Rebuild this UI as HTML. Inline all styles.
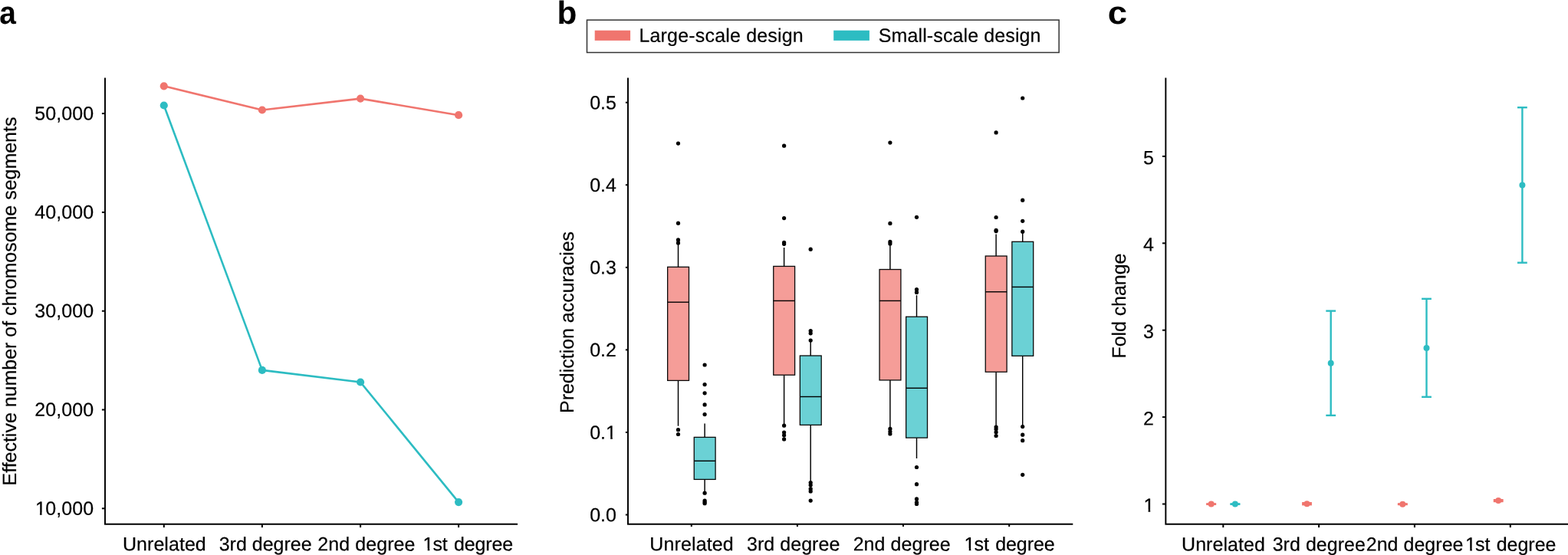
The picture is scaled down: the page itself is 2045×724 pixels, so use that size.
<!DOCTYPE html>
<html lang="en"><head><meta charset="utf-8"><title>Figure</title>
<style>
html,body{margin:0;padding:0;background:#fff;}
svg{display:block;}
text{font-family:"Liberation Sans", Arial, Helvetica, sans-serif;fill:#000;text-rendering:geometricPrecision;stroke:#000;stroke-width:0.2px;stroke-linejoin:round;}
</style></head>
<body>
<svg width="2045" height="724" viewBox="0 0 2045 724">
<rect x="0" y="0" width="2045" height="724" fill="#fff"/>
<text font-size="42.0" font-weight="bold" style="stroke:none" transform="translate(-0.87 30.6) scale(0.9256 1)">a</text>
<text font-size="42.0" font-weight="bold" style="stroke:none" transform="translate(726.55 30.7) scale(1.0090 1)">b</text>
<text font-size="42.0" font-weight="bold" style="stroke:none" transform="translate(1444.78 30.6) scale(1.0842 1)">c</text>
<polyline points="137,101.5 137,683.7 675.1,683.7" fill="none" stroke="#000" stroke-width="1.95" stroke-linejoin="miter"/>
<line x1="132.9" y1="148.1" x2="137" y2="148.1" stroke="#000" stroke-width="2"/>
<text x="45.3" y="156.45" font-size="25" letter-spacing="0.060" transform="rotate(0.04 45.3 156.45)">50,000</text>
<line x1="132.9" y1="276.9" x2="137" y2="276.9" stroke="#000" stroke-width="2"/>
<text x="45.3" y="285.25" font-size="25" letter-spacing="0.060" transform="rotate(0.04 45.3 285.25)">40,000</text>
<line x1="132.9" y1="405.7" x2="137" y2="405.7" stroke="#000" stroke-width="2"/>
<text x="45.3" y="414.05" font-size="25" letter-spacing="0.060" transform="rotate(0.04 45.3 414.05)">30,000</text>
<line x1="132.9" y1="534.5" x2="137" y2="534.5" stroke="#000" stroke-width="2"/>
<text x="45.3" y="542.85" font-size="25" letter-spacing="0.060" transform="rotate(0.04 45.3 542.85)">20,000</text>
<line x1="132.9" y1="663.3" x2="137" y2="663.3" stroke="#000" stroke-width="2"/>
<text x="45.9" y="671.65" font-size="25" letter-spacing="0.060" transform="rotate(0.04 45.9 671.65)">1<tspan dx="-0.6">0,000</tspan></text>
<line x1="213.8" y1="683.7" x2="213.8" y2="688.1" stroke="#000" stroke-width="2"/>
<text x="159.96" y="718.3" font-size="25" letter-spacing="0.053" transform="rotate(0.04 159.96 718.3)">Unrelated</text>
<line x1="341.9" y1="683.7" x2="341.9" y2="688.1" stroke="#000" stroke-width="2"/>
<text x="285.66" y="718.3" font-size="25" letter-spacing="0.003" transform="rotate(0.04 285.66 718.3)">3rd degree</text>
<line x1="470.1" y1="683.7" x2="470.1" y2="688.1" stroke="#000" stroke-width="2"/>
<text x="414.35" y="718.3" font-size="25" letter-spacing="0.068" transform="rotate(0.04 414.35 718.3)">2nd degree</text>
<line x1="598.1" y1="683.7" x2="598.1" y2="688.1" stroke="#000" stroke-width="2"/>
<text x="551.62" y="718.3" font-size="25" letter-spacing="-0.110" transform="rotate(0.04 551.62 718.3)">1<tspan dx="-1">st</tspan><tspan dx="1.5"> degree</tspan></text>
<text x="21" y="633.46" font-size="25" letter-spacing="-0.022" transform="rotate(-90 21 633.46)">Effective number of chromosome segments</text>
<polyline points="213.8,112.3 341.9,143.5 470.1,128.6 598.1,150.2" fill="none" stroke="#F0756E" stroke-width="2.6" stroke-linejoin="round"/>
<circle cx="213.8" cy="112.3" r="5.1" fill="#F0756E"/>
<circle cx="341.9" cy="143.5" r="5.1" fill="#F0756E"/>
<circle cx="470.1" cy="128.6" r="5.1" fill="#F0756E"/>
<circle cx="598.1" cy="150.2" r="5.1" fill="#F0756E"/>
<polyline points="213.8,137.5 341.9,482.9 470.1,498.5 598.1,655.1" fill="none" stroke="#2DBCC2" stroke-width="2.6" stroke-linejoin="round"/>
<circle cx="213.8" cy="137.5" r="5.1" fill="#2DBCC2"/>
<circle cx="341.9" cy="482.9" r="5.1" fill="#2DBCC2"/>
<circle cx="470.1" cy="498.5" r="5.1" fill="#2DBCC2"/>
<circle cx="598.1" cy="655.1" r="5.1" fill="#2DBCC2"/>
<rect x="765.5" y="26.1" width="615.65" height="42.4" fill="#fff" stroke="#333" stroke-width="1.5"/>
<rect x="775.7" y="39.7" width="46.4" height="13.2" fill="#F0756E"/>
<rect x="1087.2" y="39.7" width="46.7" height="13.2" fill="#2DBCC2"/>
<text x="833.44" y="54.7" font-size="25" letter-spacing="0.179" transform="rotate(0.04 833.44 54.7)">Large-scale design</text>
<text x="1145.78" y="54.7" font-size="25" letter-spacing="0.114" transform="rotate(0.04 1145.78 54.7)">Small-scale design</text>
<polyline points="819,101.5 819,683.8 1399.3,683.8" fill="none" stroke="#000" stroke-width="1.95" stroke-linejoin="miter"/>
<line x1="815.9" y1="671.5" x2="819" y2="671.5" stroke="#000" stroke-width="2"/>
<text x="769.2" y="680.2" font-size="25" letter-spacing="0.025" transform="rotate(0.04 769.2 680.2)">0.0</text>
<line x1="815.9" y1="563.94" x2="819" y2="563.94" stroke="#000" stroke-width="2"/>
<text x="769.2" y="572.64" font-size="25" letter-spacing="0.025" transform="rotate(0.04 769.2 572.64)">0.1</text>
<line x1="815.9" y1="456.38" x2="819" y2="456.38" stroke="#000" stroke-width="2"/>
<text x="769.2" y="465.08" font-size="25" letter-spacing="0.025" transform="rotate(0.04 769.2 465.08)">0.2</text>
<line x1="815.9" y1="348.82" x2="819" y2="348.82" stroke="#000" stroke-width="2"/>
<text x="769.2" y="357.52" font-size="25" letter-spacing="0.025" transform="rotate(0.04 769.2 357.52)">0.3</text>
<line x1="815.9" y1="241.26" x2="819" y2="241.26" stroke="#000" stroke-width="2"/>
<text x="769.2" y="249.96" font-size="25" letter-spacing="0.025" transform="rotate(0.04 769.2 249.96)">0.4</text>
<line x1="815.9" y1="133.7" x2="819" y2="133.7" stroke="#000" stroke-width="2"/>
<text x="769.2" y="142.4" font-size="25" letter-spacing="0.025" transform="rotate(0.04 769.2 142.4)">0.5</text>
<line x1="901.8" y1="683.8" x2="901.8" y2="687.1" stroke="#000" stroke-width="2"/>
<text x="847.36" y="718.3" font-size="25" letter-spacing="0.116" transform="rotate(0.04 847.36 718.3)">Unrelated</text>
<line x1="1039.9" y1="683.8" x2="1039.9" y2="687.1" stroke="#000" stroke-width="2"/>
<text x="974.06" y="718.3" font-size="25" letter-spacing="0.036" transform="rotate(0.04 974.06 718.3)">3rd degree</text>
<line x1="1178" y1="683.8" x2="1178" y2="687.1" stroke="#000" stroke-width="2"/>
<text x="1112.65" y="718.3" font-size="25" letter-spacing="0.057" transform="rotate(0.04 1112.65 718.3)">2nd degree</text>
<line x1="1316.2" y1="683.8" x2="1316.2" y2="687.1" stroke="#000" stroke-width="2"/>
<text x="1257.62" y="718.3" font-size="25" letter-spacing="-0.065" transform="rotate(0.04 1257.62 718.3)">1<tspan dx="-1">st</tspan><tspan dx="1.5"> degree</tspan></text>
<text x="748.4" y="538.96" font-size="25" letter-spacing="-0.029" transform="rotate(-90 748.4 538.96)">Prediction accuracies</text>
<line x1="884.5" y1="318.3" x2="884.5" y2="348.3" stroke="#000" stroke-width="1.45"/>
<line x1="884.5" y1="496.4" x2="884.5" y2="555.7" stroke="#000" stroke-width="1.45"/>
<rect x="870.65" y="348.3" width="27.85" height="148.1" fill="#F59D98" stroke="#0a0a0a" stroke-width="1.3"/>
<line x1="870.5" y1="394.2" x2="898.5" y2="394.2" stroke="#000" stroke-width="1.4"/>
<circle cx="884.5" cy="187.1" r="2.6" fill="#000"/>
<circle cx="884.5" cy="291.2" r="2.6" fill="#000"/>
<circle cx="884.5" cy="312.9" r="2.6" fill="#000"/>
<circle cx="884.5" cy="316.9" r="2.6" fill="#000"/>
<circle cx="884.5" cy="560.7" r="2.6" fill="#000"/>
<circle cx="884.5" cy="566.5" r="2.6" fill="#000"/>
<line x1="919.1" y1="552.4" x2="919.1" y2="570.4" stroke="#000" stroke-width="1.45"/>
<line x1="919.1" y1="625.4" x2="919.1" y2="643.2" stroke="#000" stroke-width="1.45"/>
<rect x="905.25" y="570.4" width="27.85" height="55" fill="#6BD1D5" stroke="#0a0a0a" stroke-width="1.3"/>
<line x1="905.1" y1="601.3" x2="933.1" y2="601.3" stroke="#000" stroke-width="1.4"/>
<circle cx="919.1" cy="476" r="2.6" fill="#000"/>
<circle cx="919.1" cy="501.6" r="2.6" fill="#000"/>
<circle cx="919.1" cy="512.8" r="2.6" fill="#000"/>
<circle cx="919.1" cy="527.9" r="2.6" fill="#000"/>
<circle cx="919.1" cy="540.6" r="2.6" fill="#000"/>
<circle cx="919.1" cy="643.2" r="2.6" fill="#000"/>
<circle cx="919.1" cy="653.1" r="2.6" fill="#000"/>
<circle cx="919.1" cy="654.9" r="2.6" fill="#000"/>
<circle cx="919.1" cy="656.7" r="2.6" fill="#000"/>
<line x1="1022.6" y1="323" x2="1022.6" y2="347.4" stroke="#000" stroke-width="1.45"/>
<line x1="1022.6" y1="489.2" x2="1022.6" y2="555.2" stroke="#000" stroke-width="1.45"/>
<rect x="1008.75" y="347.4" width="27.85" height="141.8" fill="#F59D98" stroke="#0a0a0a" stroke-width="1.3"/>
<line x1="1008.6" y1="392.4" x2="1036.6" y2="392.4" stroke="#000" stroke-width="1.4"/>
<circle cx="1022.6" cy="190.2" r="2.6" fill="#000"/>
<circle cx="1022.6" cy="284.6" r="2.6" fill="#000"/>
<circle cx="1022.6" cy="316.3" r="2.6" fill="#000"/>
<circle cx="1022.6" cy="318.3" r="2.6" fill="#000"/>
<circle cx="1022.6" cy="555.2" r="2.6" fill="#000"/>
<circle cx="1022.6" cy="564" r="2.6" fill="#000"/>
<circle cx="1022.6" cy="567.8" r="2.6" fill="#000"/>
<circle cx="1022.6" cy="572.9" r="2.6" fill="#000"/>
<line x1="1057.2" y1="444" x2="1057.2" y2="464" stroke="#000" stroke-width="1.45"/>
<line x1="1057.2" y1="554.4" x2="1057.2" y2="629.5" stroke="#000" stroke-width="1.45"/>
<rect x="1043.35" y="464" width="27.85" height="90.4" fill="#6BD1D5" stroke="#0a0a0a" stroke-width="1.3"/>
<line x1="1043.2" y1="517.5" x2="1071.2" y2="517.5" stroke="#000" stroke-width="1.4"/>
<circle cx="1057.2" cy="325.2" r="2.6" fill="#000"/>
<circle cx="1057.2" cy="431.5" r="2.6" fill="#000"/>
<circle cx="1057.2" cy="434.8" r="2.6" fill="#000"/>
<circle cx="1057.2" cy="444" r="2.6" fill="#000"/>
<circle cx="1057.2" cy="629.5" r="2.6" fill="#000"/>
<circle cx="1057.2" cy="632.8" r="2.6" fill="#000"/>
<circle cx="1057.2" cy="637.7" r="2.6" fill="#000"/>
<circle cx="1057.2" cy="640.9" r="2.6" fill="#000"/>
<circle cx="1057.2" cy="653.1" r="2.6" fill="#000"/>
<line x1="1160.9" y1="319" x2="1160.9" y2="351.5" stroke="#000" stroke-width="1.45"/>
<line x1="1160.9" y1="495.9" x2="1160.9" y2="557.2" stroke="#000" stroke-width="1.45"/>
<rect x="1147.05" y="351.5" width="27.85" height="144.4" fill="#F59D98" stroke="#0a0a0a" stroke-width="1.3"/>
<line x1="1146.9" y1="392.4" x2="1174.9" y2="392.4" stroke="#000" stroke-width="1.4"/>
<circle cx="1160.9" cy="186.1" r="2.6" fill="#000"/>
<circle cx="1160.9" cy="291.4" r="2.6" fill="#000"/>
<circle cx="1160.9" cy="315.4" r="2.6" fill="#000"/>
<circle cx="1160.9" cy="317.9" r="2.6" fill="#000"/>
<circle cx="1160.9" cy="559.4" r="2.6" fill="#000"/>
<circle cx="1160.9" cy="563" r="2.6" fill="#000"/>
<circle cx="1160.9" cy="566" r="2.6" fill="#000"/>
<line x1="1195.5" y1="385.1" x2="1195.5" y2="413.2" stroke="#000" stroke-width="1.45"/>
<line x1="1195.5" y1="571.1" x2="1195.5" y2="598" stroke="#000" stroke-width="1.45"/>
<rect x="1181.65" y="413.2" width="27.85" height="157.9" fill="#6BD1D5" stroke="#0a0a0a" stroke-width="1.3"/>
<line x1="1181.5" y1="506.3" x2="1209.5" y2="506.3" stroke="#000" stroke-width="1.4"/>
<circle cx="1195.5" cy="283.3" r="2.6" fill="#000"/>
<circle cx="1195.5" cy="377.7" r="2.6" fill="#000"/>
<circle cx="1195.5" cy="381.4" r="2.6" fill="#000"/>
<circle cx="1195.5" cy="609.5" r="2.6" fill="#000"/>
<circle cx="1195.5" cy="631.7" r="2.6" fill="#000"/>
<circle cx="1195.5" cy="650.9" r="2.6" fill="#000"/>
<circle cx="1195.5" cy="655.3" r="2.6" fill="#000"/>
<circle cx="1195.5" cy="657.5" r="2.6" fill="#000"/>
<line x1="1299.1" y1="305.6" x2="1299.1" y2="334" stroke="#000" stroke-width="1.45"/>
<line x1="1299.1" y1="485.2" x2="1299.1" y2="555.7" stroke="#000" stroke-width="1.45"/>
<rect x="1285.25" y="334" width="27.85" height="151.2" fill="#F59D98" stroke="#0a0a0a" stroke-width="1.3"/>
<line x1="1285.1" y1="380.7" x2="1313.1" y2="380.7" stroke="#000" stroke-width="1.4"/>
<circle cx="1299.1" cy="172.9" r="2.6" fill="#000"/>
<circle cx="1299.1" cy="283.5" r="2.6" fill="#000"/>
<circle cx="1299.1" cy="300.3" r="2.6" fill="#000"/>
<circle cx="1299.1" cy="301.6" r="2.6" fill="#000"/>
<circle cx="1299.1" cy="557" r="2.6" fill="#000"/>
<circle cx="1299.1" cy="559.8" r="2.6" fill="#000"/>
<circle cx="1299.1" cy="563.8" r="2.6" fill="#000"/>
<circle cx="1299.1" cy="568.5" r="2.6" fill="#000"/>
<line x1="1333.7" y1="302.2" x2="1333.7" y2="315.3" stroke="#000" stroke-width="1.45"/>
<line x1="1333.7" y1="464.3" x2="1333.7" y2="556.6" stroke="#000" stroke-width="1.45"/>
<rect x="1319.85" y="315.3" width="27.85" height="149" fill="#6BD1D5" stroke="#0a0a0a" stroke-width="1.3"/>
<line x1="1319.7" y1="374.4" x2="1347.7" y2="374.4" stroke="#000" stroke-width="1.4"/>
<circle cx="1333.7" cy="128" r="2.6" fill="#000"/>
<circle cx="1333.7" cy="261.2" r="2.6" fill="#000"/>
<circle cx="1333.7" cy="288.3" r="2.6" fill="#000"/>
<circle cx="1333.7" cy="302.2" r="2.6" fill="#000"/>
<circle cx="1333.7" cy="556.6" r="2.6" fill="#000"/>
<circle cx="1333.7" cy="567.2" r="2.6" fill="#000"/>
<circle cx="1333.7" cy="574.7" r="2.6" fill="#000"/>
<circle cx="1333.7" cy="619.3" r="2.6" fill="#000"/>
<polyline points="1520.35,101.4 1520.35,683.8 2046,683.8" fill="none" stroke="#000" stroke-width="1.95" stroke-linejoin="miter"/>
<line x1="1516" y1="657.5" x2="1520.35" y2="657.5" stroke="#000" stroke-width="2"/>
<text x="1491.51" y="667.8" font-size="25" transform="rotate(0.04 1491.51 667.8)">1</text>
<line x1="1516" y1="544.1" x2="1520.35" y2="544.1" stroke="#000" stroke-width="2"/>
<text x="1491.11" y="554.4" font-size="25" transform="rotate(0.04 1491.11 554.4)">2</text>
<line x1="1516" y1="430.7" x2="1520.35" y2="430.7" stroke="#000" stroke-width="2"/>
<text x="1491.11" y="441" font-size="25" transform="rotate(0.04 1491.11 441)">3</text>
<line x1="1516" y1="317.3" x2="1520.35" y2="317.3" stroke="#000" stroke-width="2"/>
<text x="1491.11" y="327.6" font-size="25" transform="rotate(0.04 1491.11 327.6)">4</text>
<line x1="1516" y1="203.9" x2="1520.35" y2="203.9" stroke="#000" stroke-width="2"/>
<text x="1491.11" y="214.2" font-size="25" transform="rotate(0.04 1491.11 214.2)">5</text>
<line x1="1595.3" y1="683.8" x2="1595.3" y2="688.1" stroke="#000" stroke-width="2"/>
<text x="1541.06" y="718.6" font-size="25" letter-spacing="0.053" transform="rotate(0.04 1541.06 718.6)">Unrelated</text>
<line x1="1720.1" y1="683.8" x2="1720.1" y2="688.1" stroke="#000" stroke-width="2"/>
<text x="1659.66" y="718.6" font-size="25" letter-spacing="0.036" transform="rotate(0.04 1659.66 718.6)">3rd degree</text>
<line x1="1844.9" y1="683.8" x2="1844.9" y2="688.1" stroke="#000" stroke-width="2"/>
<text x="1781.75" y="718.6" font-size="25" letter-spacing="0.024" transform="rotate(0.04 1781.75 718.6)">2nd degree</text>
<line x1="1969.8" y1="683.8" x2="1969.8" y2="688.1" stroke="#000" stroke-width="2"/>
<text x="1911.12" y="718.6" font-size="25" letter-spacing="-0.043" transform="rotate(0.04 1911.12 718.6)">1<tspan dx="-1">st</tspan><tspan dx="1.5"> degree</tspan></text>
<text x="1468.2" y="467.56" font-size="25" letter-spacing="-0.064" transform="rotate(-90 1468.2 467.56)">Fold change</text>
<line x1="1579.7" y1="657.5" x2="1579.7" y2="657.7" stroke="#F0756E" stroke-width="2.4"/>
<line x1="1573.3" y1="657.5" x2="1586.1" y2="657.5" stroke="#F0756E" stroke-width="2.4"/>
<line x1="1573.3" y1="657.7" x2="1586.1" y2="657.7" stroke="#F0756E" stroke-width="2.4"/>
<circle cx="1579.7" cy="657.6" r="4.0" fill="#F0756E"/>
<line x1="1610.9" y1="657.5" x2="1610.9" y2="657.7" stroke="#2DBCC2" stroke-width="2.4"/>
<line x1="1604.5" y1="657.5" x2="1617.3" y2="657.5" stroke="#2DBCC2" stroke-width="2.4"/>
<line x1="1604.5" y1="657.7" x2="1617.3" y2="657.7" stroke="#2DBCC2" stroke-width="2.4"/>
<circle cx="1610.9" cy="657.6" r="4.0" fill="#2DBCC2"/>
<line x1="1704.5" y1="656.2" x2="1704.5" y2="658.2" stroke="#F0756E" stroke-width="2.4"/>
<line x1="1698.1" y1="656.2" x2="1710.9" y2="656.2" stroke="#F0756E" stroke-width="2.4"/>
<line x1="1698.1" y1="658.2" x2="1710.9" y2="658.2" stroke="#F0756E" stroke-width="2.4"/>
<circle cx="1704.5" cy="657.2" r="4.0" fill="#F0756E"/>
<line x1="1735.7" y1="405.6" x2="1735.7" y2="541.9" stroke="#2DBCC2" stroke-width="2.4"/>
<line x1="1729.3" y1="405.6" x2="1742.1" y2="405.6" stroke="#2DBCC2" stroke-width="2.4"/>
<line x1="1729.3" y1="541.9" x2="1742.1" y2="541.9" stroke="#2DBCC2" stroke-width="2.4"/>
<circle cx="1735.7" cy="473.7" r="4.0" fill="#2DBCC2"/>
<line x1="1829.3" y1="657.4" x2="1829.3" y2="658" stroke="#F0756E" stroke-width="2.4"/>
<line x1="1822.9" y1="657.4" x2="1835.7" y2="657.4" stroke="#F0756E" stroke-width="2.4"/>
<line x1="1822.9" y1="658" x2="1835.7" y2="658" stroke="#F0756E" stroke-width="2.4"/>
<circle cx="1829.3" cy="657.7" r="4.0" fill="#F0756E"/>
<line x1="1860.5" y1="389.8" x2="1860.5" y2="517.8" stroke="#2DBCC2" stroke-width="2.4"/>
<line x1="1854.1" y1="389.8" x2="1866.9" y2="389.8" stroke="#2DBCC2" stroke-width="2.4"/>
<line x1="1854.1" y1="517.8" x2="1866.9" y2="517.8" stroke="#2DBCC2" stroke-width="2.4"/>
<circle cx="1860.5" cy="453.9" r="4.0" fill="#2DBCC2"/>
<line x1="1954.2" y1="652.2" x2="1954.2" y2="654" stroke="#F0756E" stroke-width="2.4"/>
<line x1="1947.8" y1="652.2" x2="1960.6" y2="652.2" stroke="#F0756E" stroke-width="2.4"/>
<line x1="1947.8" y1="654" x2="1960.6" y2="654" stroke="#F0756E" stroke-width="2.4"/>
<circle cx="1954.2" cy="653.1" r="4.0" fill="#F0756E"/>
<line x1="1985.4" y1="140.2" x2="1985.4" y2="342.7" stroke="#2DBCC2" stroke-width="2.4"/>
<line x1="1979" y1="140.2" x2="1991.8" y2="140.2" stroke="#2DBCC2" stroke-width="2.4"/>
<line x1="1979" y1="342.7" x2="1991.8" y2="342.7" stroke="#2DBCC2" stroke-width="2.4"/>
<circle cx="1985.4" cy="241.5" r="4.0" fill="#2DBCC2"/>
<rect x="46.35" y="668.78" width="5.62" height="3.67" fill="#fff"/>
<rect x="54.61" y="668.78" width="4.84" height="3.67" fill="#fff"/>
<rect x="552.07" y="715.43" width="5.62" height="3.67" fill="#fff"/>
<rect x="560.34" y="715.43" width="4.83" height="3.67" fill="#fff"/>
<rect x="790.55" y="569.77" width="5.62" height="3.67" fill="#fff"/>
<rect x="798.82" y="569.77" width="4.83" height="3.67" fill="#fff"/>
<rect x="1258.08" y="715.43" width="5.62" height="3.67" fill="#fff"/>
<rect x="1266.34" y="715.43" width="4.84" height="3.67" fill="#fff"/>
<rect x="1491.96" y="664.93" width="5.62" height="3.67" fill="#fff"/>
<rect x="1500.23" y="664.93" width="4.84" height="3.67" fill="#fff"/>
<rect x="1911.58" y="715.73" width="5.62" height="3.67" fill="#fff"/>
<rect x="1919.84" y="715.73" width="4.84" height="3.67" fill="#fff"/>
</svg>
</body></html>
